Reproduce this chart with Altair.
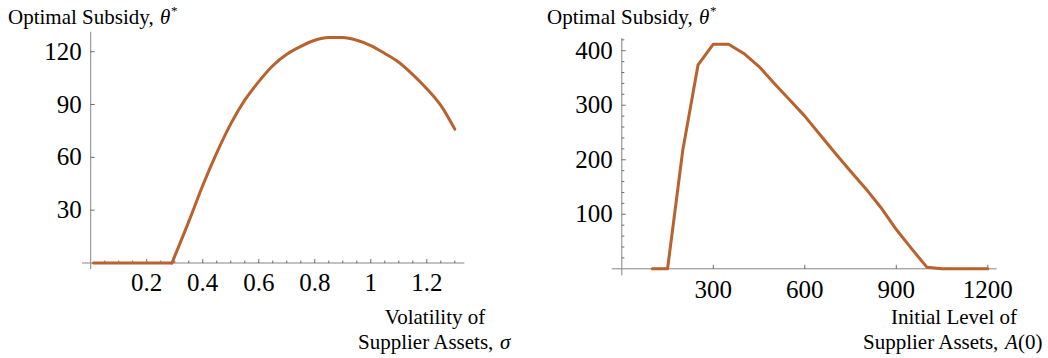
import altair as alt
import pandas as pd

# ---- data -------------------------------------------------------------
# Left panel: optimal subsidy against volatility of supplier assets
# (flat at zero up to the threshold, then a smooth hump)
sigma_flat = [0.01, 0.05, 0.10, 0.15, 0.20, 0.25, 0.29]
theta_flat = [0, 0, 0, 0, 0, 0, 0]
sigma = [0.29, 0.35, 0.40, 0.45, 0.50, 0.55, 0.60, 0.65, 0.70, 0.75, 0.80,
         0.85, 0.90, 0.95, 1.00, 1.05, 1.10, 1.15, 1.20, 1.25, 1.30]
theta_sigma = [0, 23.5, 44, 62.5, 79, 92.5, 103, 112, 118.5, 123, 126.5,
               128, 128, 126.5, 123.5, 119, 114, 107, 99, 89.5, 76]

# Right panel: optimal subsidy against initial level of supplier assets
assets = [100, 150, 200, 250, 300, 350, 400, 450, 500, 550, 600, 650, 700,
          750, 800, 850, 900, 950, 1000, 1050, 1100, 1150, 1200]
theta_assets = [0, 0, 218, 374, 412, 412, 395, 371, 340, 310, 280, 246, 212,
                179, 147, 112, 72, 37, 3, 0, 0, 0, 0]

# Axis ticks and labels
sig_major = [0.2, 0.4, 0.6, 0.8, 1.0, 1.2]
sig_major_labels = ["0.2", "0.4", "0.6", "0.8", "1", "1.2"]
sig_minor = [0.05, 0.1, 0.15, 0.25, 0.3, 0.35, 0.45, 0.5, 0.55, 0.65, 0.7,
             0.75, 0.85, 0.9, 0.95, 1.05, 1.1, 1.15, 1.25, 1.3]
left_y_major = [30, 60, 90, 120]

asset_major = [300, 600, 900, 1200]
right_y_major = [100, 200, 300, 400]
right_y_minor = [20, 40, 60, 80, 120, 140, 160, 180, 220, 240, 260, 280,
                 320, 340, 360, 380, 420]

# Axis line extents (crossing at the origin, Mathematica style)
left_x_extent = [-0.031, 1.334]
left_y_extent = [-3.4, 131.3]
right_x_extent = [-33, 1229]
right_y_extent = [-12, 423]

LINE_COLOR = "#B8622E"
AXIS_COLOR = "#858585"
FONT = "Liberation Serif"
PANEL_W, PANEL_H = 524, 358


def panel(curve_df, interp, x_dom, y_dom, x_ext, y_ext, x_major, x_labels,
          x_minor, y_major, y_minor, x_title, x_var, x_var_tail, title_x,
          xlab_cx, xlab_line2_left, var_left, x_label_dy, y_label_dx):
    xs_scale = alt.Scale(domain=x_dom, nice=False, zero=False)
    ys_scale = alt.Scale(domain=y_dom, nice=False, zero=False)

    def X(field):
        return alt.X(field, type="quantitative", scale=xs_scale, axis=None)

    def Y(field):
        return alt.Y(field, type="quantitative", scale=ys_scale, axis=None)

    curve = alt.Chart(curve_df).mark_line(
        color=LINE_COLOR, strokeWidth=3, strokeJoin="round",
        strokeCap="round", interpolate=interp
    ).encode(x=X("x"), y=Y("y"), detail="part:N", order="i:Q")

    x_axis = alt.Chart(pd.DataFrame({"x": [x_ext[0]], "x2": [x_ext[1]], "y": [0]})).mark_rule(
        color=AXIS_COLOR, strokeWidth=1
    ).encode(x=X("x"), x2="x2", y=Y("y"))
    y_axis = alt.Chart(pd.DataFrame({"y": [y_ext[0]], "y2": [y_ext[1]], "x": [0]})).mark_rule(
        color=AXIS_COLOR, strokeWidth=1
    ).encode(y=Y("y"), y2="y2", x=X("x"))

    layers = [x_axis, y_axis]

    # ticks point into the plot: upward on x, rightward on y
    xt_major = alt.Chart(pd.DataFrame({"x": x_major, "y": [0] * len(x_major)})).mark_tick(
        orient="vertical", size=4, thickness=1, color="#333333", yOffset=-2
    ).encode(x=X("x"), y=Y("y"))
    layers.append(xt_major)
    if x_minor:
        xt_minor = alt.Chart(pd.DataFrame({"x": x_minor, "y": [0] * len(x_minor)})).mark_tick(
            orient="vertical", size=2.5, thickness=1, color="#333333", yOffset=-1.25
        ).encode(x=X("x"), y=Y("y"))
        layers.append(xt_minor)

    yt_major = alt.Chart(pd.DataFrame({"y": y_major, "x": [0] * len(y_major)})).mark_tick(
        orient="horizontal", size=4, thickness=1, color="#333333", xOffset=2
    ).encode(x=X("x"), y=Y("y"))
    layers.append(yt_major)
    if y_minor:
        yt_minor = alt.Chart(pd.DataFrame({"y": y_minor, "x": [0] * len(y_minor)})).mark_tick(
            orient="horizontal", size=2.5, thickness=1, color="#333333", xOffset=1.25
        ).encode(x=X("x"), y=Y("y"))
        layers.append(yt_minor)

    xl = alt.Chart(pd.DataFrame({"x": x_major, "y": [0] * len(x_major), "t": x_labels})).mark_text(
        font=FONT, fontSize=25, color="black", align="center", baseline="middle", dy=x_label_dy
    ).encode(x=X("x"), y=Y("y"), text="t:N")
    yl = alt.Chart(pd.DataFrame({"y": y_major, "x": [0] * len(y_major),
                                 "t": [str(v) for v in y_major]})).mark_text(
        font=FONT, fontSize=25, color="black", align="right", baseline="middle", dx=y_label_dx
    ).encode(x=X("x"), y=Y("y"), text="t:N")
    layers += [xl, yl]

    def txt(s, x, y, size=21, style="normal", align="left"):
        return alt.Chart(pd.DataFrame({"t": [s]})).mark_text(
            font=FONT, fontSize=size, fontStyle=style, color="black",
            align=align, baseline="alphabetic"
        ).encode(x=alt.value(x), y=alt.value(y), text="t:N")

    # axis titles: "Optimal Subsidy, θ*" above, two-line label under the x axis
    layers += [
        txt("Optimal Subsidy,", title_x, 24),
        txt("\u03b8", title_x + 152, 24, style="italic"),
        txt("*", title_x + 163, 15, size=13),
        txt(x_title, xlab_cx, 324, align="center"),
        txt("Supplier Assets,", xlab_line2_left, 349),
        txt(x_var, var_left, 349, style="italic"),
    ]
    if x_var_tail:
        layers.append(txt(x_var_tail, var_left + 13, 349))

    layers.append(curve)
    return alt.layer(*layers).properties(width=PANEL_W, height=PANEL_H)


def series(parts):
    rows = []
    for name, xs, ys in parts:
        for i, (x, y) in enumerate(zip(xs, ys)):
            rows.append({"part": name, "i": i, "x": x, "y": y})
    return pd.DataFrame(rows)


left = panel(
    series([("flat", sigma_flat, theta_flat), ("hump", sigma, theta_sigma)]),
    "monotone",
    x_dom=[-0.3239, 1.5471], y_dom=[-53.95, 149.36],
    x_ext=left_x_extent, y_ext=left_y_extent,
    x_major=sig_major, x_labels=sig_major_labels, x_minor=sig_minor,
    y_major=left_y_major, y_minor=None,
    x_title="Volatility of", x_var="\u03c3", x_var_tail=None,
    title_x=8, xlab_cx=435, xlab_line2_left=358, var_left=500,
    x_label_dy=20, y_label_dx=-9,
)

right = panel(
    series([("all", assets, theta_assets)]), "linear",
    x_dom=[-320.7, 1397.4], y_dom=[-163.6, 493.0],
    x_ext=right_x_extent, y_ext=right_y_extent,
    x_major=asset_major, x_labels=[str(v) for v in asset_major], x_minor=None,
    y_major=right_y_major, y_minor=right_y_minor,
    x_title="Initial Level of", x_var="A", x_var_tail="(0)",
    title_x=23, xlab_cx=430, xlab_line2_left=339, var_left=481,
    x_label_dy=21, y_label_dx=-9,
)

chart = alt.hconcat(left, right, spacing=0).properties(
    padding=0
).configure(
    background="white", view=alt.ViewConfig(stroke=None)
)

chart.save("out.html", embed_options={"renderer": "svg", "actions": False})
